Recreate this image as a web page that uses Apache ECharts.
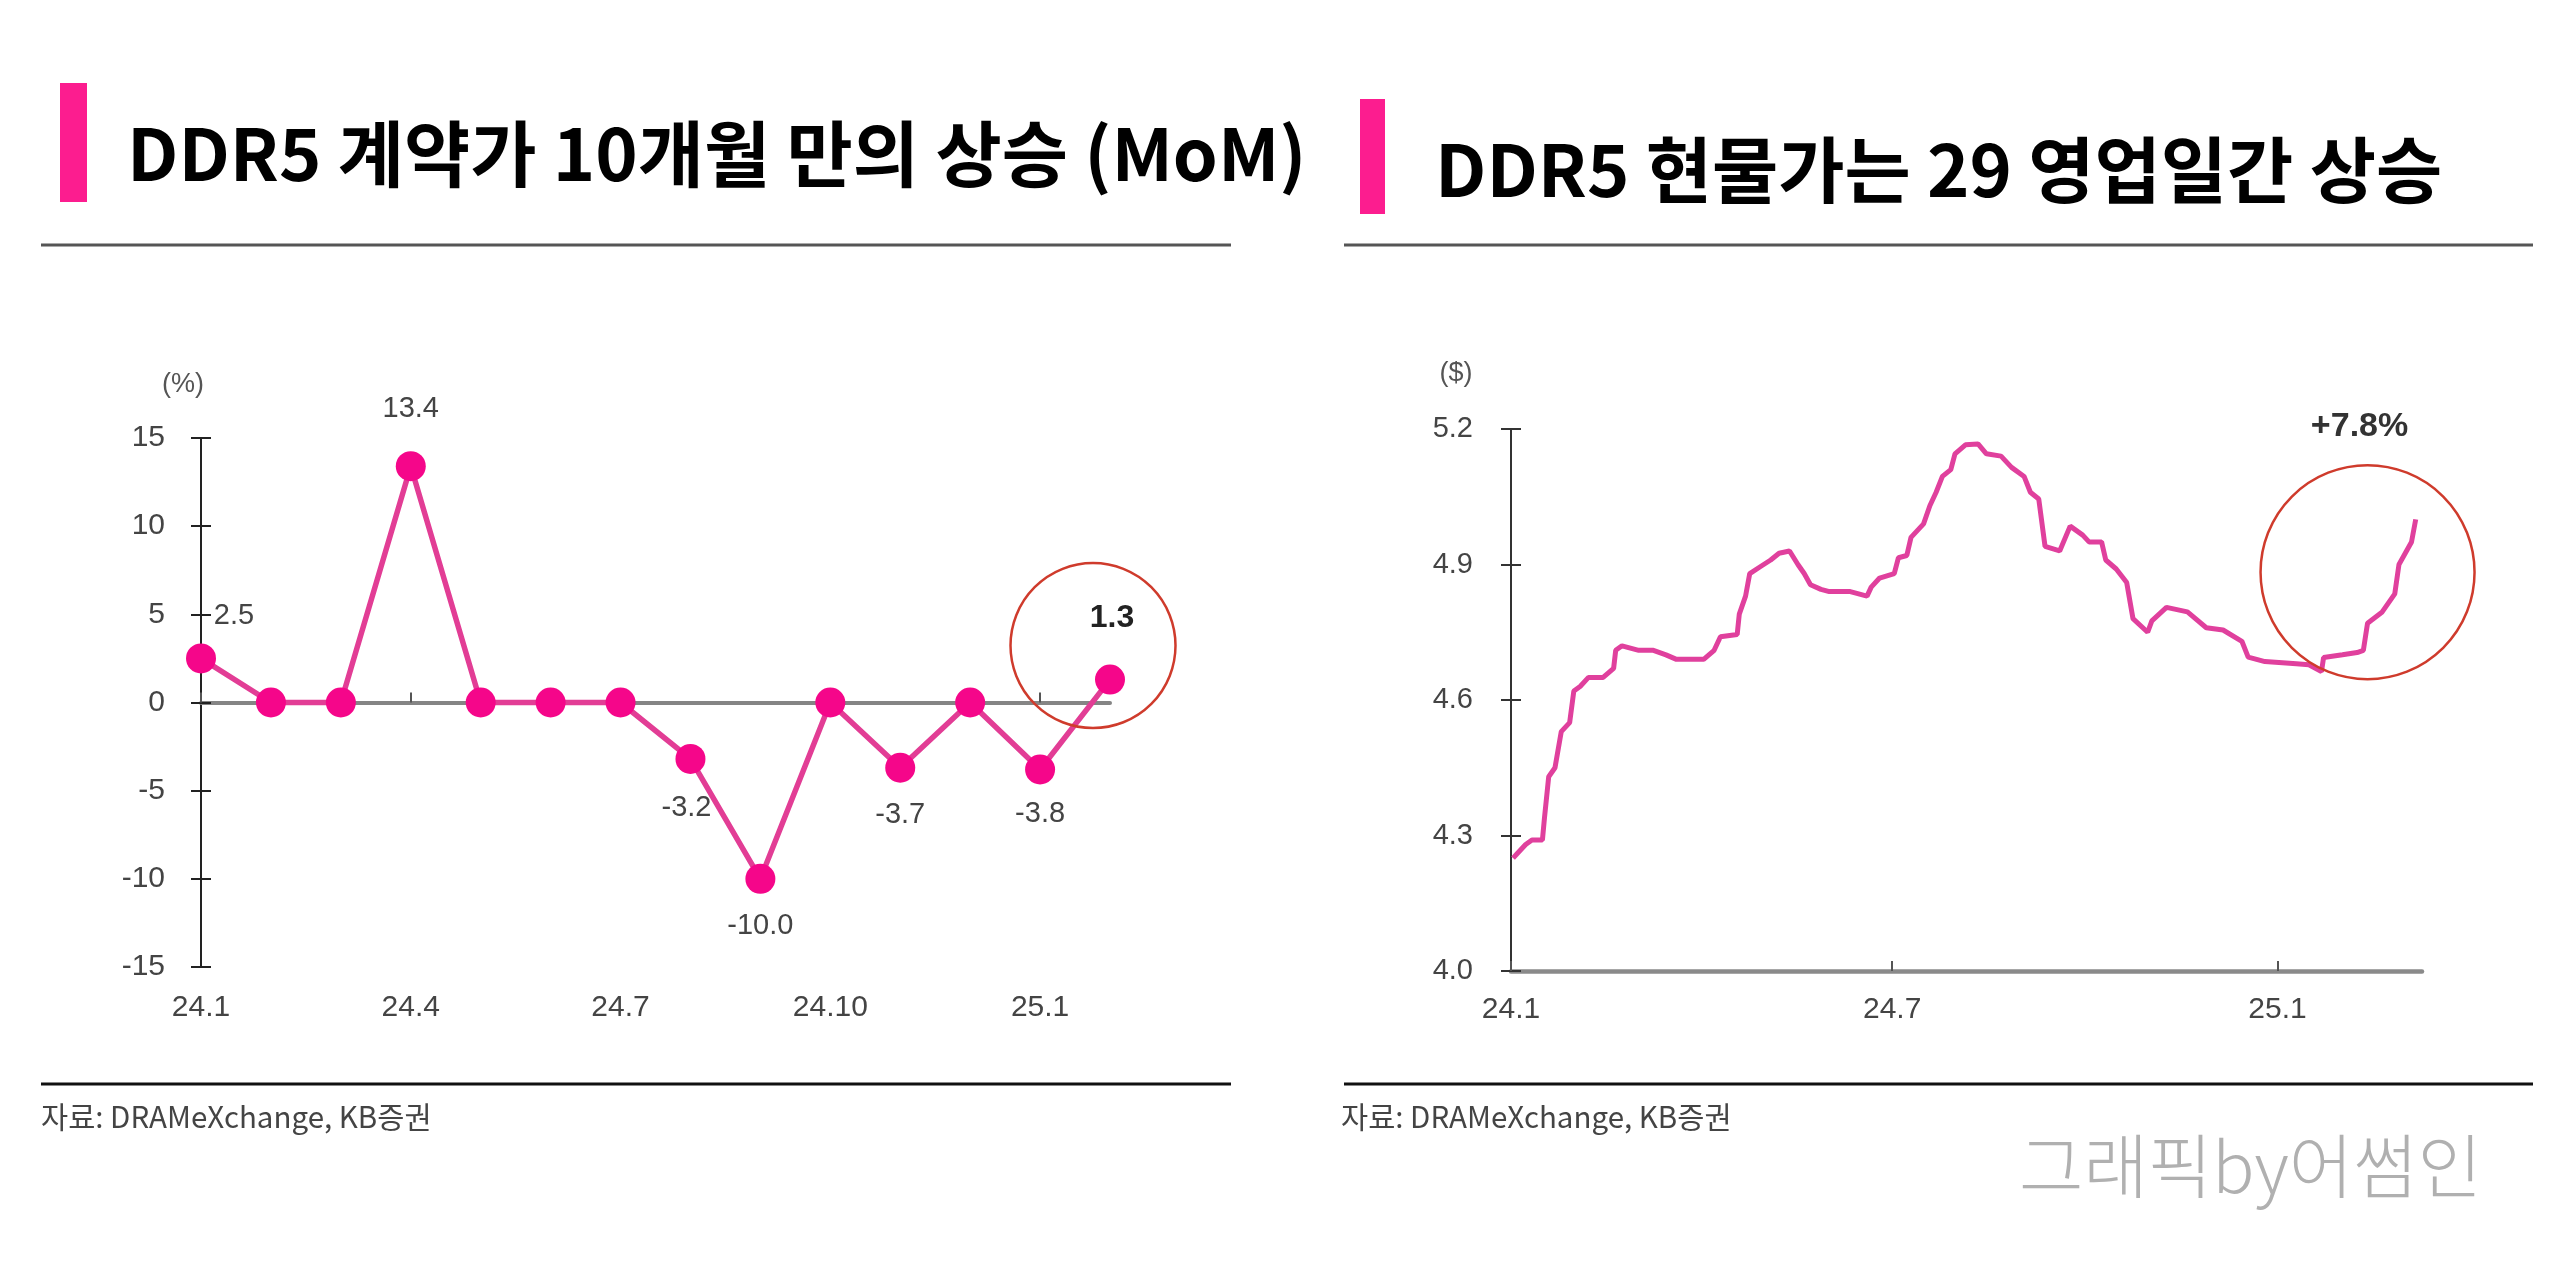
<!DOCTYPE html>
<html>
<head>
<meta charset="utf-8">
<script src="https://cdn.jsdelivr.net/npm/echarts@6/dist/echarts.min.js"></script>
<style>
html,body{margin:0;padding:0;background:#fff;}
#c{width:2560px;height:1288px;}
</style>
</head>
<body>
<div id="c"></div>
<script>
// ---------- DATA ----------
const months = ['24.1','24.2','24.3','24.4','24.5','24.6','24.7','24.8','24.9','24.10','24.11','24.12','25.1','25.2'];
const contractMoM = [2.5, 0, 0, 13.4, 0, 0, 0, -3.2, -10.0, 0, -3.7, 0, -3.8, 1.3];
const momYTicks = [-15, -10, -5, 0, 5, 10, 15];

const spotDates = ['2024-01-02','2024-01-04','2024-01-08','2024-01-11','2024-01-16','2024-01-17','2024-01-19','2024-01-22','2024-01-25','2024-01-29','2024-01-31',
 '2024-02-03','2024-02-07','2024-02-14','2024-02-19','2024-02-20','2024-02-23','2024-03-02','2024-03-09','2024-03-15','2024-03-20',
 '2024-04-02','2024-04-07','2024-04-10','2024-04-18','2024-04-19','2024-04-22','2024-04-24','2024-04-29','2024-05-04','2024-05-08','2024-05-13','2024-05-17','2024-05-20','2024-05-23','2024-05-28',
 '2024-06-01','2024-06-11','2024-06-19','2024-06-21','2024-06-25','2024-07-02','2024-07-04','2024-07-08','2024-07-10','2024-07-16','2024-07-19','2024-07-22','2024-07-25','2024-07-29','2024-07-31',
 '2024-08-05','2024-08-11','2024-08-15','2024-08-22','2024-08-27','2024-09-02','2024-09-05','2024-09-09','2024-09-12','2024-09-19','2024-09-24','2024-09-30',
 '2024-10-03','2024-10-09','2024-10-11','2024-10-16','2024-10-21','2024-10-24','2024-10-31','2024-11-02','2024-11-09','2024-11-19','2024-11-28',
 '2024-12-06','2024-12-15','2024-12-18','2024-12-26','2025-01-10','2025-01-16','2025-01-22','2025-01-23','2025-02-01','2025-02-08','2025-02-11','2025-02-13','2025-02-20','2025-02-26','2025-02-28','2025-03-03','2025-03-06','2025-03-08'];
const spotPrices = [4.25,4.26,4.28,4.29,4.29,4.34,4.43,4.45,4.53,4.55,4.62,
 4.63,4.65,4.65,4.67,4.71,4.72,4.71,4.71,4.70,4.69,
 4.69,4.71,4.74,4.745,4.79,4.83,4.88,4.895,4.91,4.925,4.93,4.90,4.88,4.855,4.845,
 4.84,4.84,4.83,4.85,4.87,4.88,4.915,4.92,4.96,4.99,5.03,5.06,5.095,5.11,5.145,
 5.165,5.167,5.145,5.14,5.115,5.095,5.06,5.045,4.94,4.93,4.985,4.965,
 4.95,4.95,4.91,4.89,4.86,4.78,4.75,4.775,4.805,4.795,4.76,
 4.755,4.73,4.695,4.685,4.68,4.678,4.663,4.694,4.70,4.705,4.71,4.77,4.795,4.835,4.90,4.925,4.95,5.00];
const spotYTicks = [4.0, 4.3, 4.6, 4.9, 5.2];
const spotXTicks = ['2024-01-01','2024-07-01','2025-01-01'];
const spotXRange = ['2024-01-01','2025-03-11'];
const spotCircleAt = ['2025-02-13', 4.883];

// ---------- HELPERS ----------
const ts = s => { const p = s.split('-').map(Number); return new Date(p[0], p[1]-1, p[2]).getTime(); };
const NUM = "'Liberation Sans', Arial, sans-serif";
const PINK_BAR = '#fc1d8f';
const LABEL_C = '#444';

const labelCfg = {
  0: {position:'top', distance:13, offset:[33,0]},
  3: {position:'top', distance:28},
  7: {position:'bottom', distance:20, offset:[-4,0]},
  8: {position:'bottom', distance:18},
  10:{position:'bottom', distance:18},
  12:{position:'bottom', distance:15},
  13:{position:'top', distance:30, offset:[2,0], fontWeight:'bold', fontSize:32, color:'#222'}
};
const momData = contractMoM.map((v,i) => {
  const c = labelCfg[i];
  if (!c) return {value:v, label:{show:false}};
  return {value:v, label:Object.assign({show:true, fontFamily:NUM, fontSize:29, color:LABEL_C, formatter: p => Number(p.value).toFixed(1)}, c)};
});

const spotData = spotDates.map((d,i) => [ts(d), spotPrices[i]]);
const tickTs = spotXTicks.map(ts);
const fmtMonth = v => { const d = new Date(v); return (d.getFullYear()%100) + '.' + (d.getMonth()+1); };

const chart = echarts.init(document.getElementById('c'), null, {renderer:'canvas'});
const option = {
  animation:false,
  backgroundColor:'#fff',
  grid:[
    {left:201, top:438, width:909, height:529, containLabel:false},
    {left:1511, top:429, width:911, height:542, containLabel:false}
  ],
  xAxis:[
    {type:'category', gridIndex:0, data:months, boundaryGap:false,
     axisLine:{show:true, onZero:true, lineStyle:{color:'#858585', width:4}},
     axisTick:{show:true, inside:true, interval:2, length:10, lineStyle:{color:'#555', width:2}},
     axisLabel:{show:false}, splitLine:{show:false}},
    {type:'category', gridIndex:0, data:months, boundaryGap:false, position:'bottom',
     axisLine:{show:false, onZero:false}, axisTick:{show:false},
     axisLabel:{show:true, interval:2, margin:26, fontFamily:NUM, fontSize:30, color:LABEL_C},
     splitLine:{show:false}},
    {type:'value', gridIndex:1, min:ts(spotXRange[0]), max:ts(spotXRange[1]), scale:true,
     axisLine:{show:true, lineStyle:{color:'#8a8a8a', width:4.5}},
     axisTick:{show:true, inside:true, length:10, customValues:tickTs, lineStyle:{color:'#555', width:2}},
     axisLabel:{show:true, customValues:tickTs, formatter:fmtMonth, margin:24, fontFamily:NUM, fontSize:30, color:LABEL_C},
     splitLine:{show:false}}
  ],
  yAxis:[
    {type:'value', gridIndex:0, position:'left', min:momYTicks[0], max:momYTicks[momYTicks.length-1], interval:momYTicks[1]-momYTicks[0],
     name:'(%)', nameLocation:'end', nameGap:40, nameTextStyle:{fontFamily:NUM, fontSize:27, color:'#555', padding:[0,36,0,0]},
     axisLine:{show:true, lineStyle:{color:'#222', width:2}},
     axisTick:{show:true, length:10, lineStyle:{color:'#222', width:2}},
     axisLabel:{margin:36, fontFamily:NUM, fontSize:30, color:LABEL_C},
     splitLine:{show:false}},
    {type:'value', gridIndex:0, position:'left', min:momYTicks[0], max:momYTicks[momYTicks.length-1], interval:momYTicks[1]-momYTicks[0],
     axisLine:{show:false}, axisTick:{show:true, inside:true, length:10, lineStyle:{color:'#222', width:2}},
     axisLabel:{show:false}, splitLine:{show:false}},
    {type:'value', gridIndex:1, position:'left', min:spotYTicks[0], max:spotYTicks[spotYTicks.length-1], interval:0.3,
     name:'($)', nameLocation:'end', nameGap:42, nameTextStyle:{fontFamily:NUM, fontSize:27, color:'#555', padding:[0,110,0,0]},
     axisLine:{show:true, lineStyle:{color:'#333', width:2}},
     axisTick:{show:true, length:10, lineStyle:{color:'#333', width:2}},
     axisLabel:{margin:38, fontFamily:NUM, fontSize:29, color:LABEL_C, formatter:v => v.toFixed(1)},
     splitLine:{show:false}},
    {type:'value', gridIndex:1, position:'left', min:spotYTicks[0], max:spotYTicks[spotYTicks.length-1], interval:0.3,
     axisLine:{show:false}, axisTick:{show:true, inside:true, length:10, lineStyle:{color:'#333', width:2}},
     axisLabel:{show:false}, splitLine:{show:false}}
  ],
  series:[
    {type:'line', xAxisIndex:0, yAxisIndex:0, data:momData,
     symbol:'circle', symbolSize:30, showAllSymbol:true,
     lineStyle:{color:'#e23d95', width:5.5},
     itemStyle:{color:'#f5068a'},
     emphasis:{disabled:true},
     markPoint:{
       silent:true, animation:false,
       data:[{coord:[contractMoM.length-1, contractMoM[contractMoM.length-1]], symbol:'circle', symbolSize:165, symbolOffset:[-17,-34],
              itemStyle:{color:'rgba(0,0,0,0)', borderColor:'#cf3b2c', borderWidth:2.5}, label:{show:false}}]
     }},
    {type:'line', xAxisIndex:2, yAxisIndex:2, data:spotData,
     showSymbol:false, symbol:'none',
     lineStyle:{color:'#e0409d', width:5},
     emphasis:{disabled:true},
     markPoint:{
       silent:true, animation:false,
       data:[{coord:[ts(spotCircleAt[0]), spotCircleAt[1]], symbol:'circle', symbolSize:214,
              itemStyle:{color:'rgba(0,0,0,0)', borderColor:'#cf3b2c', borderWidth:2.5},
              label:{show:true, formatter:'+7.8%', position:'top', distance:20, offset:[-8,0], fontFamily:NUM, fontWeight:'bold', fontSize:34, color:'#333'}}]
     }}
  ],
  graphic:[
    {type:'rect', shape:{x:60, y:83, width:27, height:119}, style:{fill:PINK_BAR}},
    {type:'rect', shape:{x:1360, y:99, width:25, height:115}, style:{fill:PINK_BAR}},
    {type:'text', x:127, y:154, style:{text:'DDR5 계약가 10개월 만의 상승 (MoM)', font:"bold 72px 'Noto Sans CJK KR', sans-serif", fill:'#000', verticalAlign:'middle', align:'left'}},
    {type:'text', x:1435, y:170, style:{text:'DDR5 현물가는 29 영업일간 상승', font:"bold 72px 'Noto Sans CJK KR', sans-serif", fill:'#000', verticalAlign:'middle', align:'left'}},
    {type:'line', shape:{x1:41, y1:245, x2:1231, y2:245}, style:{stroke:'#555', lineWidth:3}},
    {type:'line', shape:{x1:1344, y1:245, x2:2533, y2:245}, style:{stroke:'#555', lineWidth:3}},
    {type:'line', shape:{x1:41, y1:1084, x2:1231, y2:1084}, style:{stroke:'#111', lineWidth:3}},
    {type:'line', shape:{x1:1344, y1:1084, x2:2533, y2:1084}, style:{stroke:'#111', lineWidth:3}},
    {type:'text', x:41, y:1117, style:{text:'자료: DRAMeXchange, KB증권', font:"29.5px 'Noto Sans CJK KR', sans-serif", fill:'#444', verticalAlign:'middle', align:'left'}},
    {type:'text', x:1341, y:1117, style:{text:'자료: DRAMeXchange, KB증권', font:"29.5px 'Noto Sans CJK KR', sans-serif", fill:'#444', verticalAlign:'middle', align:'left'}},
    {type:'text', x:2019, y:1166, style:{text:'그래픽by어썸인', font:"300 70px 'Noto Sans CJK KR', sans-serif", fill:'#b0b0b0', verticalAlign:'middle', align:'left'}}
  ]
};
chart.setOption(option);
</script>
</body>
</html>
